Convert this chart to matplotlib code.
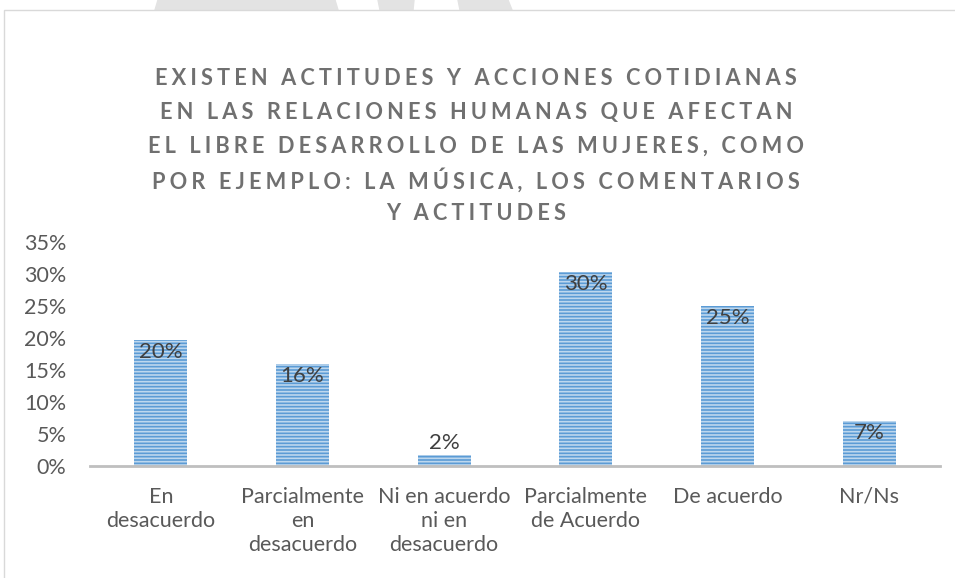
import numpy as np
from matplotlib import pyplot as plt
from matplotlib.patches import Rectangle, Polygon

categories = ["En\ndesacuerdo", "Parcialmente\nen\ndesacuerdo", "Ni en acuerdo\nni en\ndesacuerdo",
              "Parcialmente\nde Acuerdo", "De acuerdo", "Nr/Ns"]
values = [0.197, 0.159, 0.017, 0.303, 0.250, 0.070]
yticks = [0, 0.05, 0.10, 0.15, 0.20, 0.25, 0.30, 0.35]
title_lines = ["EXISTEN ACTITUDES Y ACCIONES COTIDIANAS",
               "EN LAS RELACIONES HUMANAS QUE AFECTAN",
               "EL LIBRE DESARROLLO DE LAS MUJERES, COMO",
               "POR EJEMPLO: LA MÚSICA, LOS COMENTARIOS",
               "Y ACTITUDES"]

plt.rcParams['font.family'] = ['Lato', 'DejaVu Sans']
plt.rcParams['hatch.linewidth'] = 1.2

fig = plt.figure(figsize=(9.55, 5.78), dpi=100)
W, H = 955, 578

# grey watermark shapes behind the chart frame
for pts in [[(158, 0), (335, 0), (338, 10), (155, 10)],
            [(378, 0), (414, 0), (413, 10), (380, 10)],
            [(458, 0), (508, 0), (512, 10), (460, 10)]]:
    fig.patches.append(Polygon([(x / W, 1 - y / H) for x, y in pts], closed=True,
                               transform=fig.transFigure, color='#E3E3E3', zorder=0))
# chart frame
fig.patches.append(Rectangle((4 / W, -0.01), 1.0, 1 - 10 / H + 0.01, transform=fig.transFigure,
                             facecolor='white', edgecolor='#D9D9D9', linewidth=1.0, zorder=1))

ax = fig.add_axes([90 / W, 1 - 466 / H, 850 / W, 224 / H])
ax.set_zorder(3)
ax.set_facecolor('none')
x = np.arange(len(categories))
bars = ax.bar(x, values, width=0.375, color='#5B9BD5', edgecolor='#BDD7EE',
              linewidth=0, hatch='-----', zorder=2)
for b, v in zip(bars, values):
    xc = b.get_x() + b.get_width() / 2
    if v < 0.03:
        ax.text(xc, v + 0.003, "%d%%" % round(v * 100), ha='center', va='bottom',
                fontsize=16, color='#404040', zorder=3)
    else:
        ax.text(xc, v - 0.003, "%d%%" % round(v * 100), ha='center', va='top',
                fontsize=16, color='#404040', zorder=3)

ax.set_xlim(-0.5, len(categories) - 0.5)
ax.set_ylim(0, 0.35)
ax.set_yticks(yticks)
ax.set_yticklabels(["%d%%" % round(t * 100) for t in yticks])
ax.set_xticks(x)
ax.set_xticklabels(categories, linespacing=1.27)
ax.tick_params(axis='both', length=0, labelsize=15.5, labelcolor='#595959')
ax.tick_params(axis='x', pad=15)
ax.tick_params(axis='y', pad=17)
for s in ['top', 'right', 'left']:
    ax.spines[s].set_visible(False)
ax.spines['bottom'].set_color('#BFBFBF')
ax.spines['bottom'].set_linewidth(2)

sp = '\u2009\u200a'
for i, line in enumerate(title_lines):
    txt = sp.join(line)
    fig.text(476 / W, 1 - (78 + i * 34) / H, txt, ha='center', va='center',
             fontsize=15.7, fontweight='bold', color='#707070', zorder=4)

fig.savefig('out.png', dpi=100)
